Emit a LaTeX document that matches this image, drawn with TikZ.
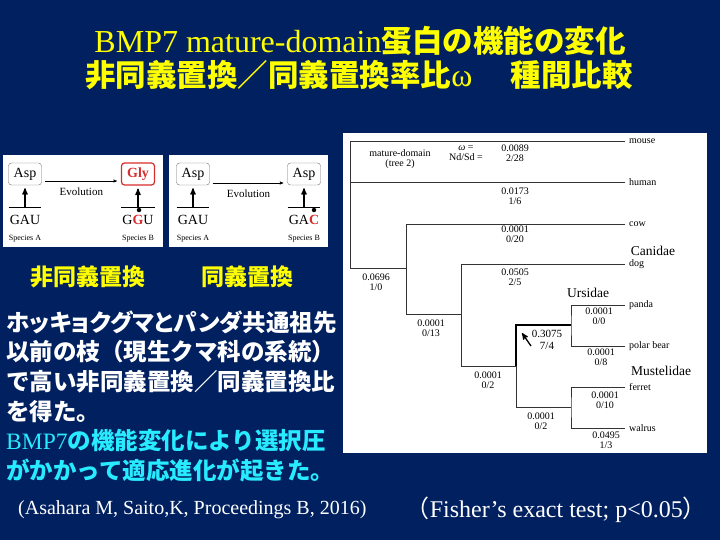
\documentclass[tikz,border=0pt]{standalone}
\usepackage{fontspec}
\setmainfont{Liberation Serif}
\newfontfamily\jp{Noto Sans CJK JP}
\newfontfamily\jpprop{Noto Sans CJK JP}[RawFeature = +palt]
\usetikzlibrary{arrows}
\usetikzlibrary{positioning}

\definecolor{slidebg}{RGB}{0,32,96}
\definecolor{titleyellow}{RGB}{255,255,0}
\definecolor{bodycyan}{RGB}{40,235,255}
\definecolor{mutred}{RGB}{215,45,45}

\begin{document}
\begin{tikzpicture}[x=1pt, y=-1pt]
\tikzset{
   node distance = 19pt, >=stealth',
   title/.style = {inner sep = 0, text = titleyellow, font = \fontsize{32}{32}\selectfont},
   kind_label/.style = {inner sep = 0, text = titleyellow, font = \jp\bfseries\fontsize{23}{23}\selectfont},
   body/.style = {anchor = west, inner sep = 0, text = white, font = \jp\bfseries\fontsize{23.5}{23.5}\selectfont},
   cite/.style = {inner sep = 0, text = white, font = \fontsize{20}{20}\selectfont},
   panel/.style = {rectangle, fill = white, inner sep = 0},
   aa/.style = {rectangle, rounded corners = 3pt, draw = black!55, fill = white, minimum width = 33pt, minimum height = 22pt, inner sep = 0, font = \fontsize{14}{14}\selectfont},
   aa_mut/.style = {aa, draw = mutred, very thick, text = mutred, font = \bfseries\fontsize{14}{14}\selectfont},
   codon/.style = {inner xsep = 1pt, inner ysep = 8pt, text height = 10pt, text depth = 0pt, font = \fontsize{14}{14}\selectfont},
   species/.style = {inner sep = 0, font = \fontsize{8}{8}\selectfont},
   evo/.style = {->, thin, shorten < = 3pt, shorten > = 4pt},
   evo_label/.style = {below = 7pt, inner sep = 0, font = \fontsize{11}{11}\selectfont},
   uparrow/.style = {->, line width = 1.3pt, shorten > = 3pt},
   mark_dot/.style = {circle, fill = black, minimum size = 4.5pt, inner sep = 0},
   leaf/.style = {anchor = west, inner xsep = 4pt, inner ysep = 0, font = \fontsize{10}{10}\selectfont},
   ratio/.style = {align = center, inner sep = 0, font = \fontsize{10}{10.5}\selectfont},
   family/.style = {inner sep = 0, font = \fontsize{13.5}{13.5}\selectfont},
   branch/.style = {draw = black!80, line width = 0.9pt},
   hot_branch/.style = {draw = black, line width = 2.6pt},
   pointer/.style = {->, line width = 1.3pt}
}
  \useasboundingbox (0,0) rectangle (720,540);
  \fill[slidebg] (0,0) rectangle (720,540);

  \node[title] (title_top) at (360,41) {BMP7 mature-domain{\jp\bfseries\fontsize{30.5}{30.5}\selectfont 蛋白の機能の変化}};
  \node[title] (title_bottom) at (359,75) {{\jp\bfseries\fontsize{30.5}{30.5}\selectfont 非同義置換／同義置換率比}ω\hspace{1.2em}{\jp\bfseries\fontsize{30.5}{30.5}\selectfont 種間比較}};

  \node[panel, minimum width = 160pt, minimum height = 92pt] (panel_non) at (83,201) {};
  \node[aa] (asp_non) at (25,174) {Asp};
  \node[aa_mut] (gly_non) at (138,174) {Gly};
  \draw[evo] ([yshift = -7pt]asp_non.east) -- node[evo_label] (evo_non) {Evolution} ([yshift = -7pt]gly_non.west);
  \node[codon] (gau_non) at (25,220) {GAU}
        edge [uparrow] (asp_non);
  \draw (gau_non.north west) -- (gau_non.north east);
  \node[codon] (ggu_non) at (138,220) {G{\color{mutred}\bfseries G}U}
        edge [uparrow] (gly_non);
  \draw (ggu_non.north west) -- (ggu_non.north east);
  \node[mark_dot] (dot_non) at (139,210) {};
  \node[species] (spa_non) [below of = gau_non] {Species A};
  \node[species] (spb_non) [below of = ggu_non] {Species B};

  \node[panel, minimum width = 159pt, minimum height = 92pt] (panel_syn) at (248.5,201) {};
  \node[aa] (asp_syn_a) at (193,174) {Asp};
  \node[aa] (asp_syn_b) at (304,174) {Asp};
  \draw[evo] ([yshift = -9pt]asp_syn_a.east) -- node[evo_label] (evo_syn) {Evolution} ([yshift = -9pt]asp_syn_b.west);
  \node[codon] (gau_syn) at (193,220) {GAU}
        edge [uparrow] (asp_syn_a);
  \draw (gau_syn.north west) -- (gau_syn.north east);
  \node[codon] (gac_syn) at (304,220) {GA{\color{mutred}\bfseries C}}
        edge [uparrow] (asp_syn_b);
  \draw (gac_syn.north west) -- (gac_syn.north east);
  \node[mark_dot] (dot_syn) at (314,210) {};
  \node[species] (spa_syn) [below of = gau_syn] {Species A};
  \node[species] (spb_syn) [below of = gac_syn] {Species B};

  \node[kind_label] (label_non) at (88,277) {非同義置換};
  \node[kind_label] (label_syn) at (247,277) {同義置換};

  \node[body] (note_1) at (6,322) {\jpprop ホッキョクグマとパンダ共通祖先};
  \node[body] (note_2) at (6,352) {以前の枝（現生クマ科の系統）};
  \node[body] (note_3) at (6,382) {で高い非同義置換／同義置換比};
  \node[body] (note_4) at (6,412) {を得た。};
  \node[body, text = bodycyan] (note_5) at (6,441) {{\rmfamily\mdseries BMP7}の機能変化により選択圧};
  \node[body, text = bodycyan] (note_6) at (6,470) {がかかって適応進化が起きた。};

  \node[panel, minimum width = 364pt, minimum height = 320pt] (tree_panel) at (525,293) {};

  \node[leaf] (mouse) at (625,141) {mouse};
  \node[leaf] (human) at (625,182) {human};
  \node[leaf] (cow) at (625,224) {cow};
  \node[leaf] (dog) at (625,264) {dog};
  \node[leaf] (panda) at (625,305) {panda};
  \node[leaf] (polar_bear) at (625,346) {polar bear};
  \node[leaf] (ferret) at (625,387) {ferret};
  \node[leaf] (walrus) at (625,428) {walrus};

  \coordinate (root_base) at (350,268);
  \coordinate (a_low) at (406,314);
  \coordinate (b_low) at (461,366);
  \coordinate (c_top) at (516,325);
  \coordinate (c_low) at (516,407);
  \coordinate (bear_node) at (571,325);
  \coordinate (must_node) at (571,407);

  \draw[branch] (mouse.west) -| (root_base) -- (root_base -| a_low);
  \draw[branch] (human.west) -- (human.west -| root_base);
  \draw[branch] (cow.west) -| (a_low) -- (a_low -| b_low);
  \draw[branch] (dog.west) -| (b_low) -- (b_low -| c_low);
  \draw[branch] (b_low -| c_low) -- (c_low) -- (must_node);
  \draw[hot_branch] (b_low -| c_low) -- (c_top) -- (bear_node);
  \draw[branch] (panda.west) -| (bear_node) |- (polar_bear.west);
  \draw[branch] (ferret.west) -| (must_node) |- (walrus.west);

  \node[ratio] (tree_name) at (400,159) {mature-domain\\(tree 2)};
  \node[ratio] (tree_key) at (466,153) {\textit{ω} =\\Nd/Sd =};
  \node[ratio] (w_mouse) at (515,153) {0.0089\\2/28};
  \node[ratio] (w_human) at (515,196) {0.0173\\1/6};
  \node[ratio] (w_cow) at (515,234) {0.0001\\0/20};
  \node[ratio] (w_dog) at (515,277) {0.0505\\2/5};
  \node[ratio] (w_root) at (376,282) {0.0696\\1/0};
  \node[ratio] (w_carn) at (431,328) {0.0001\\0/13};
  \node[ratio] (w_panda) at (599,316) {0.0001\\0/0};
  \node[ratio, font = \fontsize{11}{11.5}\selectfont] (w_hot) at (547,340) {0.3075\\7/4};
  \node[ratio] (w_polar) at (601,357) {0.0001\\0/8};
  \node[ratio] (w_arcto) at (488,380) {0.0001\\0/2};
  \node[ratio] (w_ferret) at (605,400) {0.0001\\0/10};
  \node[ratio] (w_must) at (541,421) {0.0001\\0/2};
  \node[ratio] (w_walrus) at (606,440) {0.0495\\1/3};

  \node[family] (canidae) at (653,251) {Canidae};
  \node[family] (ursidae) at (588,293) {Ursidae};
  \node[family] (mustelidae) at (661,371) {Mustelidae};

  \coordinate (ptr_tail) at (531,346);
  \coordinate (ptr_tip) at (522,333);
  \draw[pointer] (ptr_tail) -- (ptr_tip);

  \node[cite, anchor = west] (citation) at (18,510) {(Asahara M, Saito,K, Proceedings B, 2016)};
  \node[cite, anchor = east, font = \fontsize{24}{24}\selectfont] (fisher_note) at (707,510) {{\jp （}Fisher’s exact test; p<0.05{\jp ）}};
\end{tikzpicture}
\end{document}
